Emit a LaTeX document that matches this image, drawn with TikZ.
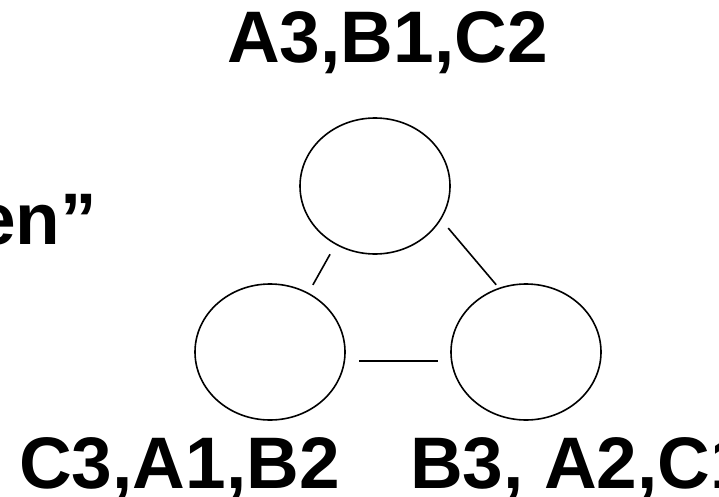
\documentclass[tikz,border=0pt]{standalone}
\usepackage{fontspec}
\setmainfont{Liberation Sans}
\usepackage{tikz}
\usetikzlibrary{shapes.geometric}

\tikzset{
  ring/.style={draw, ellipse, line width=1.6pt, inner sep=0pt, minimum width=150pt, minimum height=136pt},
  lbl/.style={font=\fontsize{73}{80}\selectfont\bfseries, inner sep=0pt, anchor=base west},
  link/.style={line width=1.6pt}
}

\begin{document}
\begin{tikzpicture}[x=1pt, y=-1pt]
  % Fix the page size
  \useasboundingbox (0,0) rectangle (719,497);

  % Draw the three rings
  \node[ring] (top) at (375,186) {};
  \node[ring] (left) at (270,352) {};
  \node[ring] (right) at (526,352) {};

  % Connect the rings
  \draw[link, shorten <=11pt, shorten >=9pt] (top.-124) -- (left.57);
  \draw[link, shorten <=11pt, shorten >=4pt] (top.-27) -- (right.113);
  \draw[link, shorten <=14pt, shorten >=13pt] (left.-7) -- (right.187);

  % Labels
  \node[lbl] (toplbl) at (227,63) {A3,B1,C2};
  \node[lbl, anchor=base east] (sidelbl) at (97,244) {en”};
  \node[lbl] (leftlbl) at (19,488) {C3,A1,B2};
  \node[lbl] (rightlbl) at (410,488) {B3, A2,C1};
\end{tikzpicture}
\end{document}
